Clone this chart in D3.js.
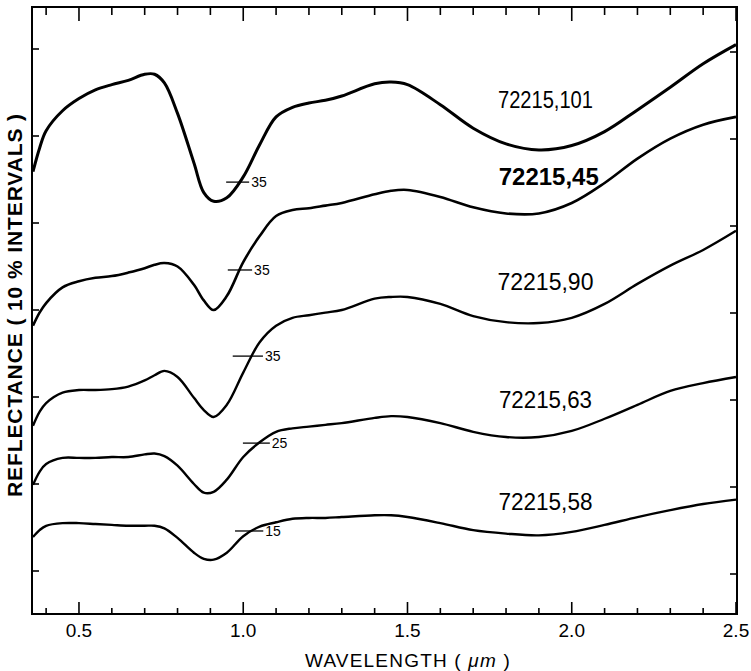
<!DOCTYPE html>
<html>
<head>
<meta charset="utf-8">
<script src="https://cdn.jsdelivr.net/npm/d3@7"></script>
<style>
    html, body { margin: 0; padding: 0; background: #fff; }
    svg { display: block; }
    text { font-family: "Liberation Sans", Arial, sans-serif; fill: #000; }
</style>
</head>
<body>
<svg id="chart" width="751" height="671"></svg>
<script>
'use strict';

// wavelength grid (micrometres), shared by all five spectra
var wavelengths = [0.36, 0.38, 0.40, 0.45, 0.50, 0.55, 0.60, 0.65, 0.70, 0.73, 0.76, 0.80,
    0.85, 0.88, 0.91, 0.95, 1.00, 1.05, 1.10, 1.15, 1.20, 1.25, 1.30, 1.40, 1.45, 1.50,
    1.60, 1.70, 1.80, 1.90, 2.00, 2.10, 2.20, 2.30, 2.40, 2.50];

// reflectance, in % units of the (offset) vertical scale
var r101 = [45.9, 48.6, 50.6, 52.9, 54.3, 55.3, 55.9, 56.4, 57.1, 57.1, 56.1, 52.6,
    46.9, 43.5, 42.5, 42.9, 45.3, 49.0, 52.2, 53.3, 53.8, 54.1, 54.6, 56.0, 56.2, 55.9,
    53.6, 50.9, 49.1, 48.4, 48.9, 50.5, 53.0, 55.6, 58.3, 60.5];
var r45 = [28.2, 29.7, 30.8, 32.6, 33.3, 33.7, 33.9, 34.3, 34.8, 35.2, 35.4, 35.0,
    32.9, 31.1, 30.0, 31.6, 35.5, 38.5, 40.8, 41.5, 41.7, 42.0, 42.3, 43.3, 43.7, 43.8,
    43.0, 41.8, 41.1, 41.1, 42.3, 44.6, 47.4, 49.7, 51.3, 52.2];
var r90 = [16.7, 18.3, 19.3, 20.5, 20.8, 20.8, 20.9, 21.2, 21.9, 22.5, 23.0, 22.3,
    19.9, 18.5, 17.7, 19.1, 22.8, 26.3, 28.2, 29.1, 29.4, 29.7, 30.0, 31.3, 31.5, 31.5,
    30.7, 29.3, 28.6, 28.5, 29.1, 30.7, 33.0, 35.1, 36.9, 39.1];
var r63 = [9.9, 11.4, 12.3, 13.0, 13.0, 13.0, 13.1, 13.1, 13.4, 13.5, 13.2, 12.1,
    10.0, 9.0, 9.1, 10.5, 13.1, 14.8, 16.0, 16.4, 16.6, 16.8, 17.0, 17.6, 17.8, 17.7,
    17.0, 16.0, 15.4, 15.4, 16.1, 17.5, 19.1, 20.7, 21.6, 22.3];
var r58 = [3.9, 4.7, 5.2, 5.5, 5.5, 5.4, 5.3, 5.2, 5.2, 5.2, 4.9, 3.8,
    2.1, 1.4, 1.3, 2.1, 4.0, 5.1, 5.6, 6.0, 6.1, 6.1, 6.2, 6.4, 6.4, 6.2,
    5.5, 4.7, 4.3, 4.1, 4.5, 5.3, 6.2, 7.0, 7.7, 8.2];

var sampleNames = ['72215,101', '72215,45', '72215,90', '72215,63', '72215,58'];
var sampleValues = [r101, r45, r90, r63, r58];
var lineWidths = [3, 2.6, 2.4, 2.4, 2.4];

// label positions: centre wavelength and level, printed width
var labelWl = [1.92, 1.93, 1.92, 1.92, 1.92];
var labelLevel = [54.1, 45.3, 33.2, 19.7, 7.9];
var labelWidth = [95, 100, 96, 93, 94];

// absolute reflectance markers on each spectrum
var markerWl = [0.983, 0.990, 1.014, 1.040, 1.018];
var markerLevel = [44.7, 34.6, 24.7, 14.7, 4.6];
var markerHalf = [0.035, 0.037, 0.046, 0.041, 0.043];
var markerText = ['35', '35', '35', '25', '15'];

var xMajor = [0.5, 1.0, 1.5, 2.0, 2.5];
var xMajorLabels = ['0.5', '1.0', '1.5', '2.0', '2.5'];
var xMinor = [0.4, 0.6, 0.7, 0.8, 0.9, 1.1, 1.2, 1.3, 1.4, 1.6, 1.7, 1.8, 1.9, 2.1, 2.2, 2.3, 2.4];
var yTicks = [0, 10, 20, 30, 40, 50, 60];

(function(){
    var svg = d3.select('#chart'),
        frameL = 32, frameR = 737, frameT = 7, frameB = 614;

    var x = d3.scaleLinear().domain([0.357, 2.5]).range([frameL, 736]);
    var y = d3.scaleLinear().domain([0, 60]).range([571, 49]);

    // frame
    svg.append('rect')
        .attr('x', frameL).attr('y', frameT)
        .attr('width', frameR - frameL).attr('height', frameB - frameT)
        .attr('fill', 'none').attr('stroke', '#000').attr('stroke-width', 2);

    function drawTicks( values, len, atTop ){
        svg.append('g').selectAll('line')
            .data(values).enter().append('line')
            .attr('x1', function( d ){ return x(d); })
            .attr('x2', function( d ){ return x(d); })
            .attr('y1', atTop ? frameT : frameB)
            .attr('y2', atTop ? frameT + len : frameB - len)
            .attr('stroke', '#000').attr('stroke-width', 1.6);
    }

    drawTicks(xMajor, 12, false);
    drawTicks(xMinor, 6, false);
    drawTicks(xMajor, 14, true);
    drawTicks(xMinor, 8, true);

    svg.append('g').selectAll('line')
        .data(yTicks).enter().append('line')
        .attr('x1', frameL).attr('x2', frameL + 7)
        .attr('y1', function( d ){ return y(d); })
        .attr('y2', function( d ){ return y(d); })
        .attr('stroke', '#000').attr('stroke-width', 1.6);

    svg.append('g').selectAll('line')
        .data(yTicks).enter().append('line')
        .attr('x1', frameR - 7).attr('x2', frameR)
        .attr('y1', function( d ){ return y(d) + 3; })
        .attr('y2', function( d ){ return y(d) + 3; })
        .attr('stroke', '#000').attr('stroke-width', 1.6);

    svg.append('g').selectAll('text')
        .data(xMajor).enter().append('text')
        .attr('x', function( d ){ return x(d); })
        .attr('y', 637)
        .attr('text-anchor', 'middle')
        .attr('font-size', 19)
        .text(function( d, i ){ return xMajorLabels[i]; });

    var xTitle = svg.append('text')
        .attr('x', 408).attr('y', 667)
        .attr('text-anchor', 'middle')
        .attr('font-size', 19)
        .attr('letter-spacing', 1.2);
    xTitle.append('tspan').text('WAVELENGTH ( ');
    xTitle.append('tspan').attr('font-style', 'italic').text('μm');
    xTitle.append('tspan').text(' )');

    svg.append('text')
        .attr('transform', 'translate(22,305) rotate(-90)')
        .attr('text-anchor', 'middle')
        .attr('font-size', 21)
        .attr('font-weight', 'bold')
        .attr('letter-spacing', 0.9)
        .text('REFLECTANCE ( 10 % INTERVALS )');

    // spectra
    var line = d3.line()
        .x(function( d ){ return x(d[0]); })
        .y(function( d ){ return y(d[1]); })
        .curve(d3.curveCatmullRom.alpha(0.5));

    sampleValues.forEach(function( vals, i ){
        var pts = wavelengths.map(function( w, j ){ return [w, vals[j]]; });
        svg.append('path')
            .attr('d', line(pts))
            .attr('fill', 'none')
            .attr('stroke', '#000')
            .attr('stroke-width', lineWidths[i])
            .attr('stroke-linejoin', 'round');

        svg.append('text')
            .attr('x', x(labelWl[i]))
            .attr('y', y(labelLevel[i]) + 8)
            .attr('text-anchor', 'middle')
            .attr('font-size', 23)
            .attr('font-weight', i === 1 ? 'bold' : 'normal')
            .attr('textLength', labelWidth[i])
            .attr('lengthAdjust', 'spacingAndGlyphs')
            .text(sampleNames[i]);

        svg.append('line')
            .attr('x1', x(markerWl[i] - markerHalf[i]))
            .attr('x2', x(markerWl[i] + markerHalf[i]))
            .attr('y1', y(markerLevel[i]))
            .attr('y2', y(markerLevel[i]))
            .attr('stroke', '#000').attr('stroke-width', 1.3);

        svg.append('text')
            .attr('x', x(markerWl[i] + markerHalf[i]) + 2)
            .attr('y', y(markerLevel[i]) + 5)
            .attr('font-size', 14)
            .text(markerText[i]);
    });
})();
</script>
</body>
</html>
